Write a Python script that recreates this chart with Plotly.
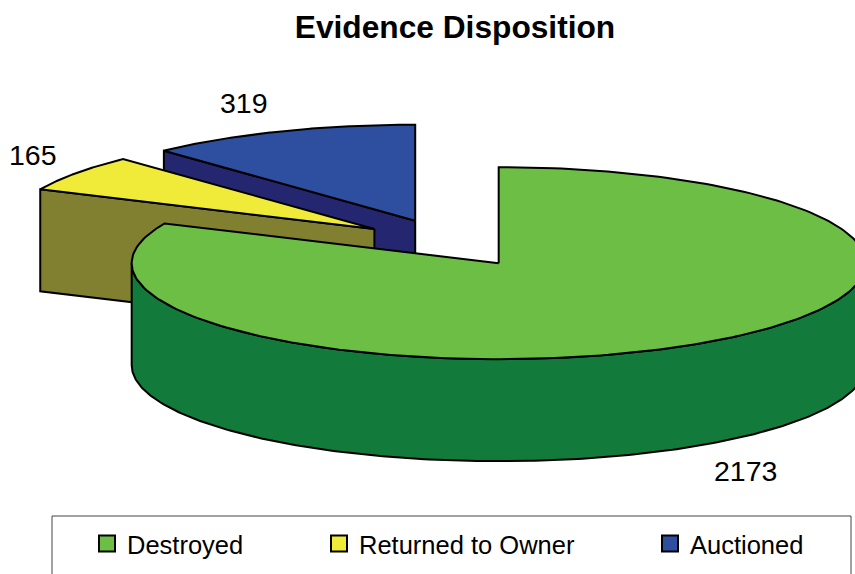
import numpy as np
import plotly.graph_objects as go

# --- data ---
categories = ["Destroyed", "Returned to Owner", "Auctioned"]
counts = [2173, 165, 319]

# --- styles and layout of the drawing ---
top_colors = ["#6CBE45", "#F0EB38", "#2E4FA0"]
wall_colors = ["#127B3C", "#808030", "#252670"]
W, H = 855, 574
CX, CY = 449, 243       # pie centre, in pixels
RX, RY = 367, 96        # ellipse radii of the tilted pie
DEPTH = 102             # thickness of the pie
EXPLODE = 0.25          # slice separation as a share of the radius
LINE = dict(color="black", width=2)
FONT = "Liberation Sans, Arial, sans-serif"


def arc(cx, cy, a0, a1, n=240, dy=0):
    """Points on the ellipse; angles in degrees clockwise from 12 o'clock."""
    t = np.radians(np.linspace(a0, a1, n))
    return cx + RX * np.sin(t), cy + dy - RY * np.cos(t)


fig = go.Figure()


def poly(xs, ys, color):
    fig.add_trace(go.Scatter(
        x=list(xs) + [xs[0]], y=list(ys) + [ys[0]], mode="lines", fill="toself",
        fillcolor=color, line=LINE, hoverinfo="skip", showlegend=False))


# sweep of every slice, derived from the values
total = sum(counts)
sweeps = [c / total * 360 for c in counts]
starts = list(np.cumsum([0] + sweeps[:-1]))
slices = []
for s, sw in zip(starts, sweeps):
    mid = np.radians(s + sw / 2)
    slices.append(dict(a0=s, a1=s + sw,
                       ax=CX + EXPLODE * RX * np.sin(mid),
                       ay=CY - EXPLODE * RY * np.cos(mid)))

# painter's order: back slices first
for i in [2, 1, 0]:
    sl = slices[i]
    if sl["a1"] - sl["a0"] < 180:   # small, back-facing slices: radial cut is visible
        ex, ey = arc(sl["ax"], sl["ay"], sl["a0"], sl["a0"], n=1)
        poly([sl["ax"], ex[0], ex[0], sl["ax"]],
             [sl["ay"], ey[0], ey[0] + DEPTH, sl["ay"] + DEPTH], wall_colors[i])
    else:                           # front rim of the large slice
        x1, y1 = arc(sl["ax"], sl["ay"], 90, 270)
        x2, y2 = arc(sl["ax"], sl["ay"], 270, 90, dy=DEPTH)
        poly(np.r_[x1, x2], np.r_[y1, y2], wall_colors[i])
    x, y = arc(sl["ax"], sl["ay"], sl["a0"], sl["a1"])
    poly(np.r_[sl["ax"], x], np.r_[sl["ay"], y], top_colors[i])

# legend swatches, one legend per entry so each sits where the reference has it
legend_names = ["legend", "legend2", "legend3"]
legend_x = [87, 319, 650]
layout_legends = {}
for name, cat, col, lx in zip(legend_names, categories, top_colors, legend_x):
    fig.add_trace(go.Scatter(
        x=[None], y=[None], mode="markers", name=cat, legend=name,
        marker=dict(symbol="square", size=16, color=col, line=dict(color="black", width=2))))
    layout_legends[name] = dict(
        x=lx / W, y=1 - 544 / H, xanchor="left", yanchor="middle", orientation="h",
        bgcolor="rgba(0,0,0,0)", borderwidth=0, font=dict(family=FONT, size=25.5, color="black"))

# data labels
label_pos = [(745, 471), (33, 155), (244, 103)]
annotations = [
    dict(x=px, y=py, text=str(c), showarrow=False, xanchor="center", yanchor="middle",
         font=dict(family=FONT, size=28.5, color="black"))
    for c, (px, py) in zip(counts, label_pos)
]

fig.update_layout(
    width=W, height=H, margin=dict(l=0, r=0, t=0, b=0),
    paper_bgcolor="white", plot_bgcolor="white",
    xaxis=dict(range=[0, W], visible=False, fixedrange=True),
    yaxis=dict(range=[H, 0], visible=False, fixedrange=True),
    title=dict(text="<b>Evidence Disposition</b>", x=455 / W, y=1 - 27 / H,
               xanchor="center", yanchor="middle",
               font=dict(family=FONT, size=31.7, color="black")),
    annotations=annotations,
    shapes=[dict(type="rect", x0=52, x1=851, y0=516, y1=590,
                 line=dict(color="#444444", width=1), layer="below")],
    **layout_legends,
)

fig.write_html("out.html", config=dict(displayModeBar=False),
               post_script="document.body.style.margin='0';")
